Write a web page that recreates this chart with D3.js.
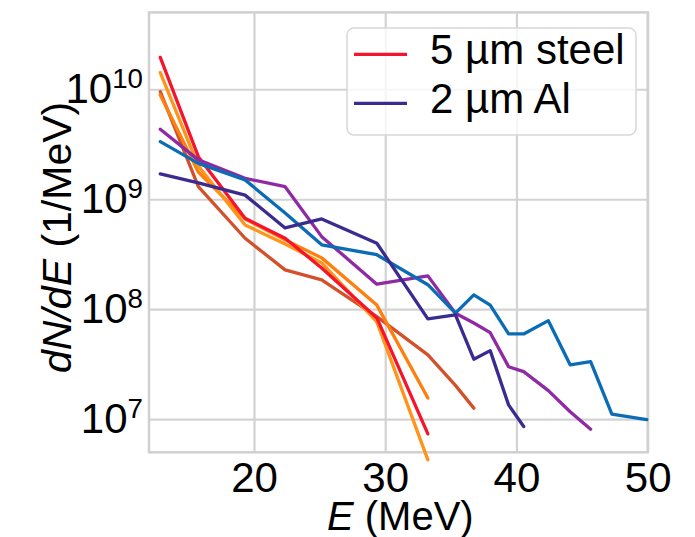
<!DOCTYPE html>
<html>
<head>
<meta charset="utf-8">
<script src="https://cdn.jsdelivr.net/npm/d3@7"></script>
<style>
  html, body { margin: 0; padding: 0; background: #fff; }
  svg { display: block; font-family: "Liberation Sans", Arial, Helvetica, sans-serif; }
</style>
</head>
<body>
<svg id="chart" width="695" height="537"></svg>
<script>
// energy bins (MeV)
const energy = [12.86, 15.76, 19.32, 22.37, 25.16, 29.36, 33.25, 35.35, 36.75, 38.0, 39.4, 40.55, 42.43, 44.09, 45.65, 47.27, 49.93];

// dN/dE (1/MeV), one value per bin starting from the first
const steelRed = [1.95e10, 2.44e9, 6.71e8, 4.42e8, 2.37e8, 8.33e7, 7.35e6];
const steelOrangeA = [8.87e9, 1.77e9, 6.62e8, 4.27e8, 2.93e8, 1.09e8, 1.56e7];
const steelOrangeB = [1.42e10, 2.01e9, 5.83e8, 3.92e8, 2.64e8, 7.67e7, 4.27e6];
const steelBrown = [9.5e9, 1.30e9, 4.42e8, 2.28e8, 1.85e8, 8.57e7, 3.85e7, 2.03e7, 1.26e7];
const alPurple = [4.33e9, 2.28e9, 1.55e9, 1.30e9, 4.57e8, 1.69e8, 2.01e8, 9.2e7, 7.5e7, 6.12e7, 3.0e7, 2.71e7, 1.82e7, 1.17e7, 8.1e6];
const alBlue = [3.34e9, 2.12e9, 1.50e9, 7.5e8, 3.85e8, 3.13e8, 1.67e8, 9.2e7, 1.35e8, 1.09e8, 5.96e7, 5.96e7, 7.87e7, 3.12e7, 3.34e7, 1.11e7, 9.9e6];
const alIndigo = [1.70e9, 1.41e9, 1.09e9, 5.48e8, 6.62e8, 3.98e8, 8.17e7, 8.87e7, 3.51e7, 4.2e7, 1.35e7, 8.57e6];

const seriesValues = [steelBrown, steelOrangeA, steelOrangeB, steelRed, alPurple, alBlue, alIndigo];
const seriesColors = ["#d2512b", "#ff7f0e", "#ff9419", "#f5142b", "#8e2aa3", "#0b6cb6", "#3a2b91"];

const legendLabels = ["5 \u00b5m steel", "2 \u00b5m Al"];
const legendColors = ["#f5142b", "#3a2b91"];

const xTicks = [20, 30, 40, 50];
const yTicks = [1e7, 1e8, 1e9, 1e10];

const svg = d3.select("#chart");
const plot = {left: 149, right: 647.7, top: 12.4, bottom: 452.3};
const fontSize = 42;

const x = d3.scaleLinear().domain([12, 50]).range([plot.left, plot.right]);
const y = d3.scaleLog().domain([5e6, 5e10]).range([plot.bottom, plot.top]);

// grid + x ticks
svg.append("g")
  .attr("transform", `translate(0,${plot.bottom})`)
  .call(d3.axisBottom(x).tickValues(xTicks).tickSize(-(plot.bottom - plot.top)).tickPadding(10))
  .call(g => g.select(".domain").remove())
  .call(g => g.selectAll(".tick line").attr("stroke", "#d3d3d3").attr("stroke-width", 2.2))
  .call(g => g.selectAll(".tick text")
    .attr("fill", "#000")
    .attr("font-size", fontSize)
    .attr("font-family", "Liberation Sans, Arial, sans-serif"));

// grid + y ticks with superscript exponents
svg.append("g")
  .attr("transform", `translate(${plot.left},0)`)
  .call(d3.axisLeft(y).tickValues(yTicks).tickSize(-(plot.right - plot.left)).tickPadding(6).tickFormat(""))
  .call(g => g.select(".domain").remove())
  .call(g => g.selectAll(".tick line").attr("stroke", "#d3d3d3").attr("stroke-width", 2.2))
  .call(g => g.selectAll(".tick text")
    .attr("fill", "#000")
    .attr("font-size", fontSize)
    .attr("font-family", "Liberation Sans, Arial, sans-serif")
    .each(function (d) {
      const t = d3.select(this);
      t.append("tspan").text("10");
      t.append("tspan")
        .attr("font-size", fontSize * 0.66)
        .attr("dy", -15)
        .text(Math.round(Math.log10(d)));
    }));

// frame
svg.append("rect")
  .attr("x", plot.left).attr("y", plot.top)
  .attr("width", plot.right - plot.left).attr("height", plot.bottom - plot.top)
  .attr("fill", "none")
  .attr("stroke", "#d0d0d0")
  .attr("stroke-width", 2.5);

// lines
const line = d3.line()
  .x((d, i) => x(energy[i]))
  .y(d => y(d));

svg.append("g")
  .attr("fill", "none")
  .attr("stroke-width", 3.3)
  .attr("stroke-linejoin", "round")
  .attr("stroke-linecap", "round")
  .selectAll("path")
  .data(seriesValues)
  .enter().append("path")
  .attr("stroke", (d, i) => seriesColors[i])
  .attr("d", d => line(d));

// legend
const legend = svg.append("g");
legend.append("rect")
  .attr("x", 347).attr("y", 28)
  .attr("width", 289).attr("height", 107)
  .attr("rx", 7)
  .attr("fill", "#fff").attr("fill-opacity", 0.8)
  .attr("stroke", "#d8d8d8").attr("stroke-width", 1.5);

const item = legend.selectAll("g.item")
  .data(legendLabels)
  .enter().append("g")
  .attr("class", "item")
  .attr("transform", (d, i) => `translate(0,${54.3 + i * 49})`);

item.append("line")
  .attr("x1", 354).attr("x2", 407)
  .attr("stroke", (d, i) => legendColors[i])
  .attr("stroke-width", 3.3);

item.append("text")
  .attr("x", 430).attr("y", 9.5)
  .attr("font-size", fontSize)
  .text(d => d);

// axis labels
const xl = svg.append("text")
  .attr("x", (plot.left + plot.right) / 2 + 2).attr("y", 530)
  .attr("text-anchor", "middle")
  .attr("font-size", 40);
xl.append("tspan").attr("font-style", "italic").text("E");
xl.append("tspan").text(" (MeV)");

const yl = svg.append("text")
  .attr("transform", `translate(71,${(plot.top + plot.bottom) / 2 + 5}) rotate(-90)`)
  .attr("text-anchor", "middle")
  .attr("font-size", 41);
yl.append("tspan").attr("font-style", "italic").text("dN/dE");
yl.append("tspan").text(" (1/MeV)");
</script>
</body>
</html>
